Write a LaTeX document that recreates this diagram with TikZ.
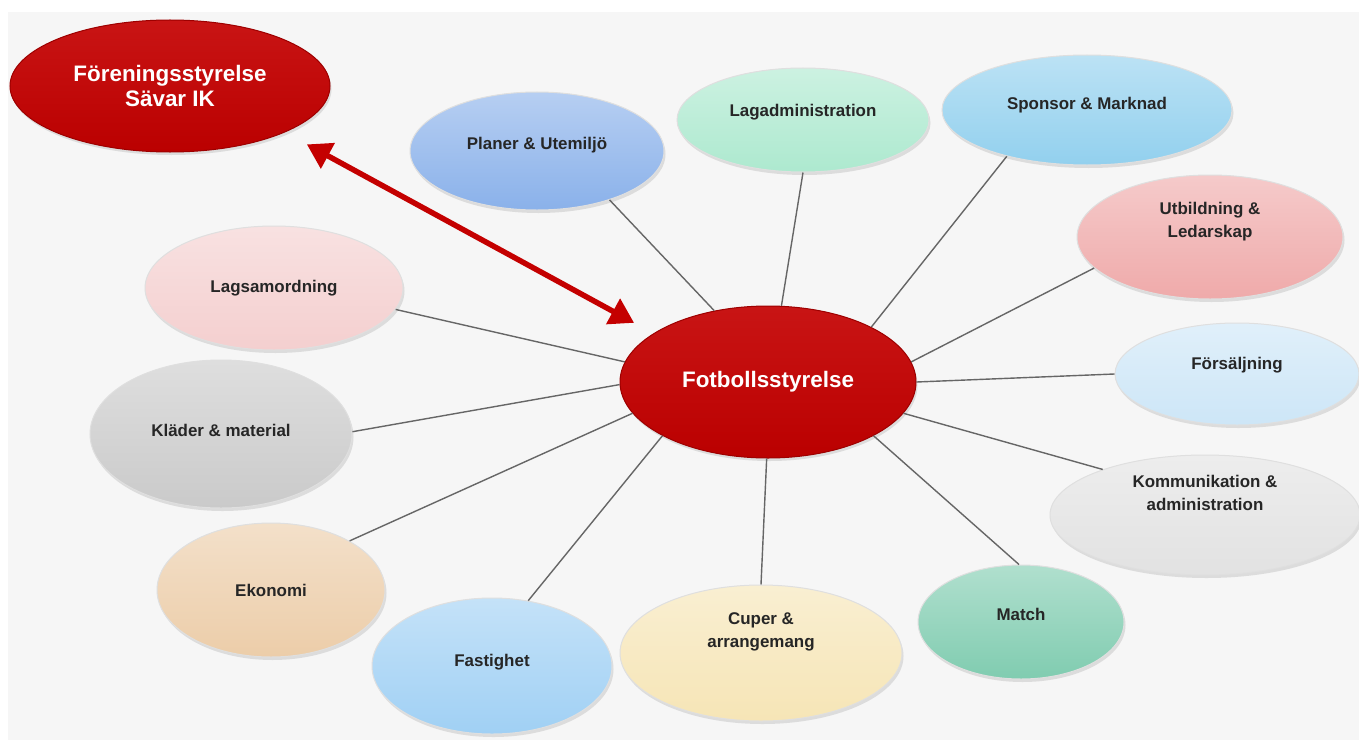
\documentclass[tikz,border=0pt]{standalone}
\usepackage{fontspec}
\setmainfont{Liberation Sans}
\usetikzlibrary{shapes.geometric,arrows.meta,shadows}

\definecolor{bg}{HTML}{F6F6F6}
\definecolor{fotred}{HTML}{C40000}
\definecolor{planercol}{HTML}{8AB1EA}
\definecolor{lagadmcol}{HTML}{ADE9CF}
\definecolor{sponsorcol}{HTML}{92D0EE}
\definecolor{utbildcol}{HTML}{EFAAAA}
\definecolor{forsaljcol}{HTML}{CDE6F7}
\definecolor{kommuncol}{HTML}{E2E2E2}
\definecolor{matchcol}{HTML}{80CCB0}
\definecolor{cupercol}{HTML}{F6E5B6}
\definecolor{fastigcol}{HTML}{A0D0F4}
\definecolor{ekonomicol}{HTML}{ECCDA9}
\definecolor{kladercol}{HTML}{CACACA}
\definecolor{lagsamcol}{HTML}{F4CFCF}

\tikzset{
  bub/.style={ellipse, draw=white!75!gray, line width=1bp, inner sep=0pt, align=center,
    font=\bfseries\fontsize{17}{23}\selectfont, text=black!85,
    drop shadow={opacity=0.22, shadow xshift=1.5bp, shadow yshift=-3bp}},
  sz/.style 2 args={minimum width=#1bp, minimum height=#2bp},
  tint/.style={top color=#1!62!white, bottom color=#1},
  lift/.style={text depth=#1bp},
  hub/.style={bub, top color=fotred!92!white, bottom color=fotred!95!black, draw=fotred!80!black,
    text=white, font=\bfseries\fontsize{22.5}{25}\selectfont},
  link/.style={draw=gray!80!black, line width=1.4bp},
  redarrow/.style={draw=fotred, line width=5.5bp,
    {Triangle[length=24bp,width=28bp]}-{Triangle[length=24bp,width=28bp]}}
}

\begin{document}
\begin{tikzpicture}[x=1bp,y=-1bp]
  \useasboundingbox (0,0) rectangle (1359,751);
  \fill[white] (0,0) rectangle (1359,751);
  \fill[bg] (8,12) rectangle (1359,740);

  % centre and board
  \node[hub, sz={296}{152}] (fot) at (768,382) {Fotbollsstyrelse};
  \node[hub, sz={320}{132}] (fore) at (170,86) {Föreningsstyrelse\\Sävar IK};

  % groups
  \node[bub, sz={254}{118}, tint=planercol, lift=16] (planer) at (537,151) {Planer \& Utemiljö};
  \node[bub, sz={252}{104}, tint=lagadmcol, lift=20] (lagadm) at (803,120) {Lagadministration};
  \node[bub, sz={290}{110}, tint=sponsorcol, lift=14] (sponsor) at (1087,110) {Sponsor \& Marknad};
  \node[bub, sz={266}{124}, tint=utbildcol, lift=35] (utbild) at (1210,237) {Utbildning \&\\Ledarskap};
  \node[bub, sz={244}{102}, tint=forsaljcol, lift=22] (forsalj) at (1237,374) {Försäljning};
  \node[bub, sz={310}{120}, tint=kommuncol, lift=45] (kommun) at (1205,515) {Kommunikation \&\\administration};
  \node[bub, sz={206}{114}, tint=matchcol, lift=16] (match) at (1021,622) {Match};
  \node[bub, sz={282}{136}, tint=cupercol, lift=45] (cuper) at (761,653) {Cuper \&\\arrangemang};
  \node[bub, sz={240}{136}, tint=fastigcol, lift=12] (fastig) at (492,666) {Fastighet};
  \node[bub, sz={228}{134}, tint=ekonomicol] (ekonomi) at (271,590) {Ekonomi};
  \node[bub, sz={262}{148}, tint=kladercol, lift=8] (klader) at (221,434) {Kläder \& material};
  \node[bub, sz={258}{124}, tint=lagsamcol] (lagsam) at (274,288) {Lagsamordning};

  \draw[link] (fot.127) -- (planer.-34);
  \draw[link] (fot.80) -- (lagadm.-90);
  \draw[link] (fot.28) -- (sponsor.-150);
  \draw[link] (fot.8) -- (utbild.195);
  \draw[link] (fot.0) -- (forsalj.180);
  \draw[link] (fot.-13) -- (kommun.156);
  \draw[link] (fot.-27) -- (match.92);
  \draw[link] (fot.-91) -- (cuper.90);
  \draw[link] (fot.207) -- (fastig.61);
  \draw[link] (fot.193) -- (ekonomi.32);
  \draw[link] (fot.181) -- (klader.1);
  \draw[link] (fot.172) -- (lagsam.-10);

  \draw[redarrow, shorten <=25bp, shorten >=22bp] (fore.-22) -- (fot.157);
\end{tikzpicture}
\end{document}
